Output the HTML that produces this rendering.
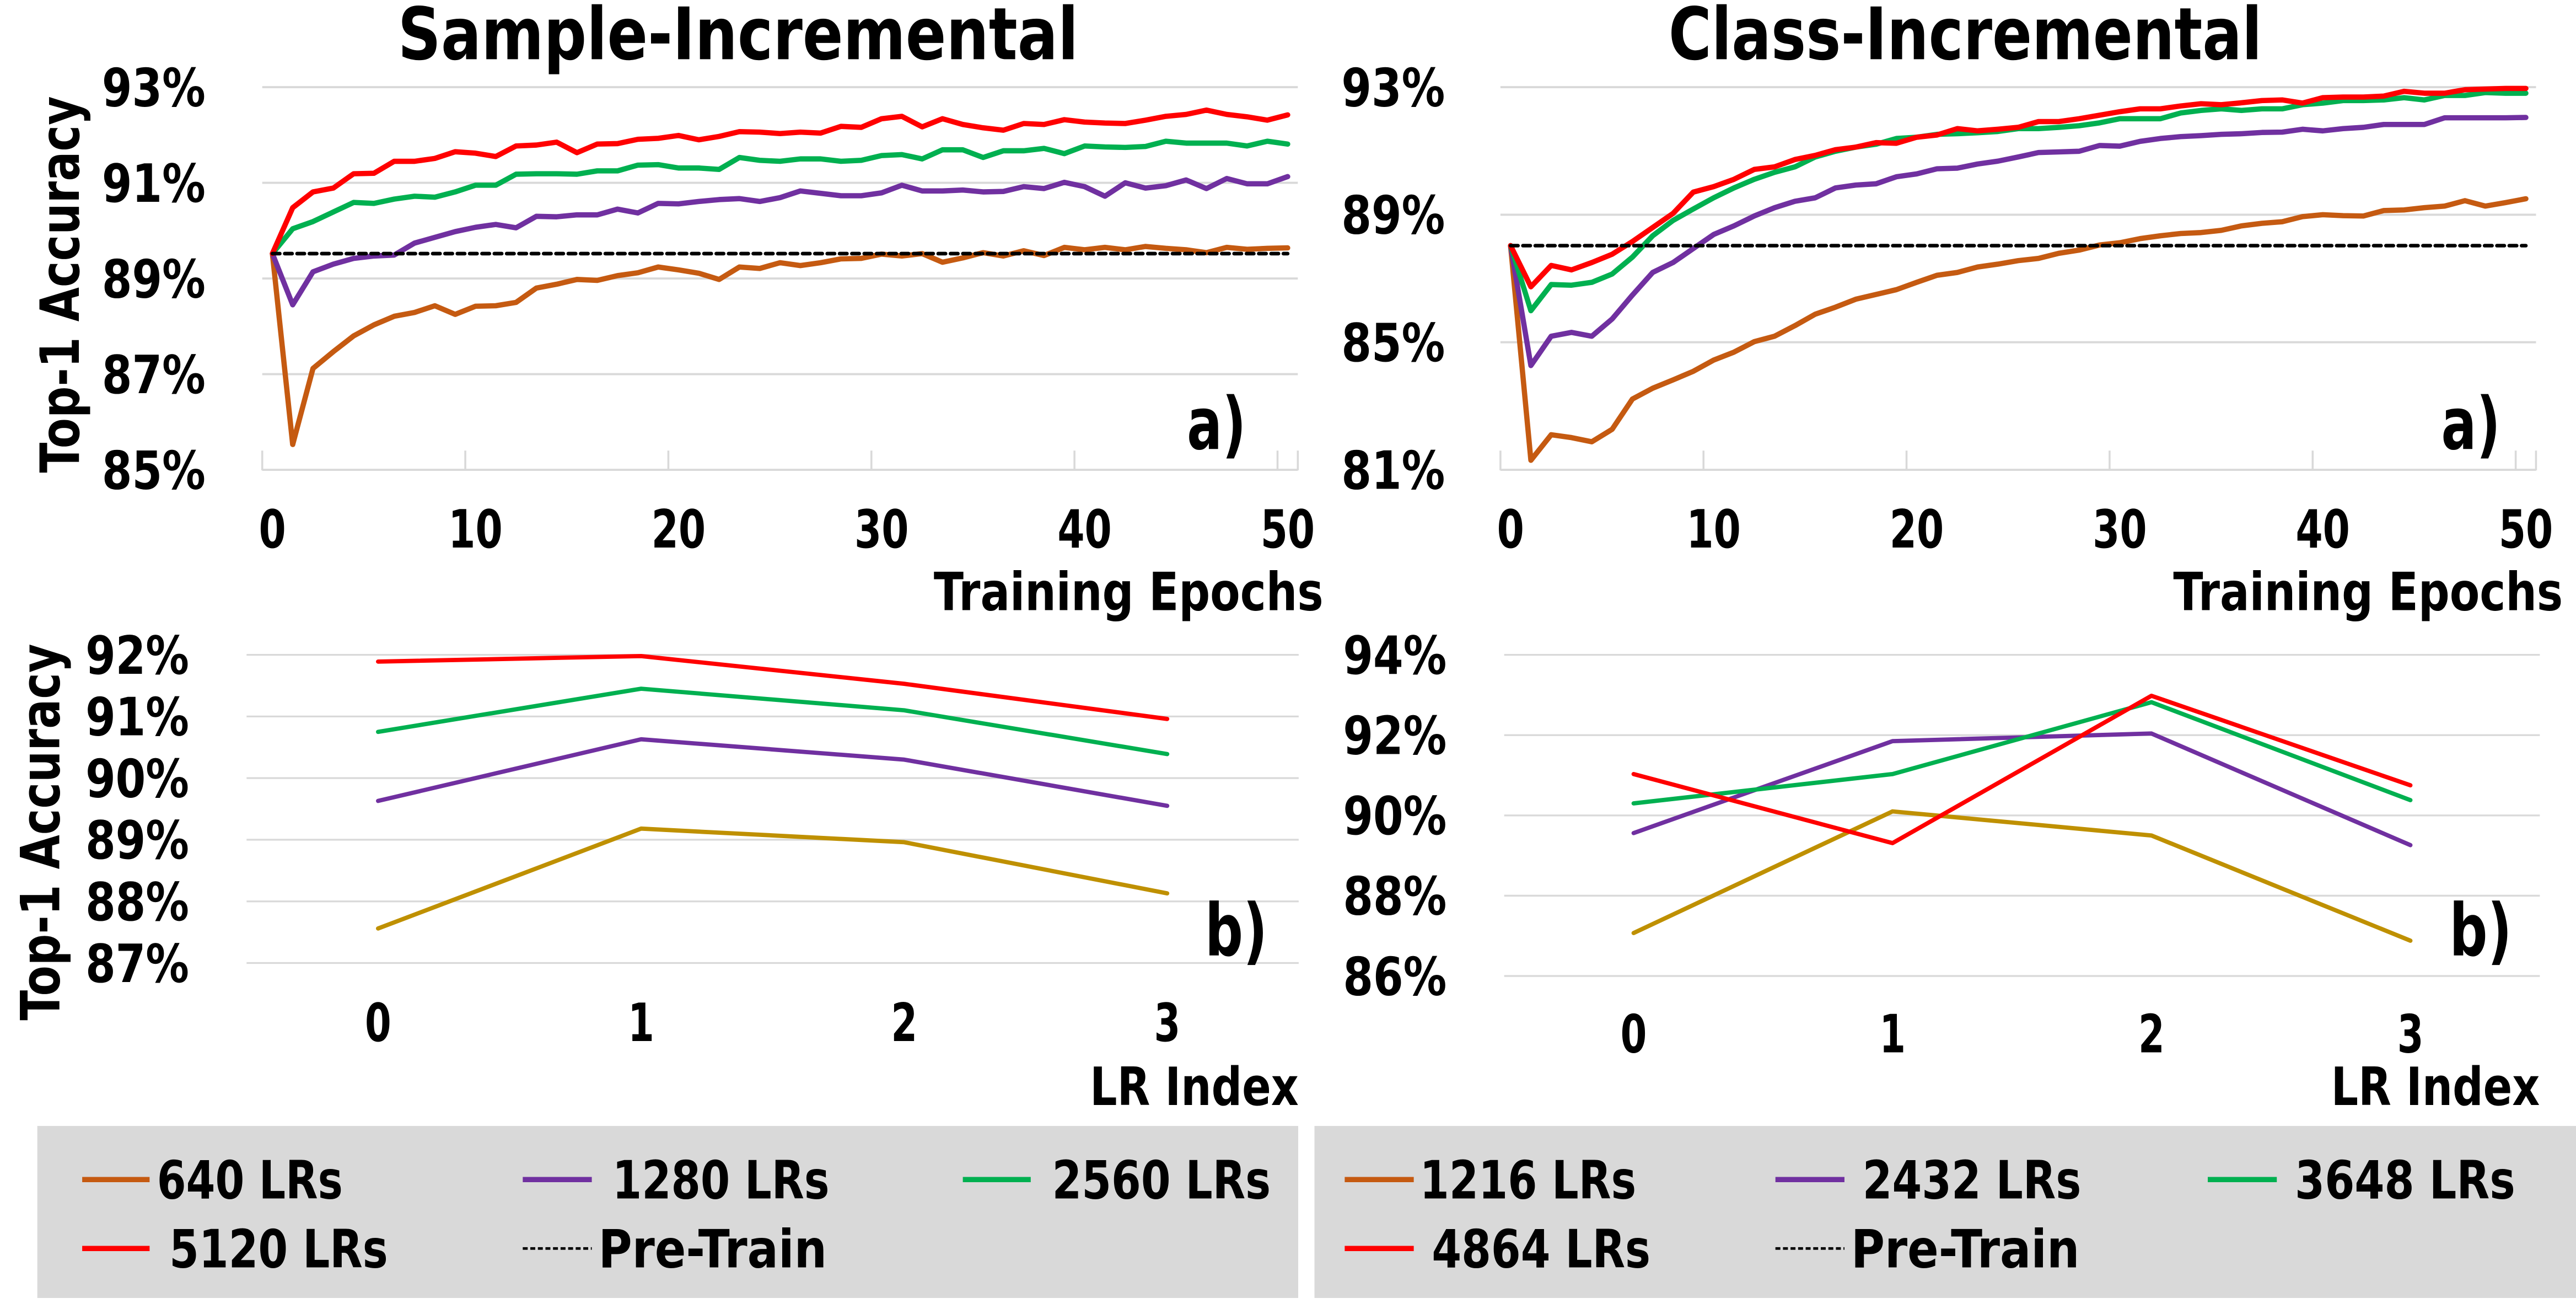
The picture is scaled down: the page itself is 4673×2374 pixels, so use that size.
<!DOCTYPE html>
<html><head><meta charset="utf-8"><style>
html,body{margin:0;padding:0;background:#fff;}
svg{display:block;}
text{font-family:"DejaVu Sans","Liberation Sans",sans-serif;font-weight:bold;fill:#000;}
</style></head><body>
<svg id="chart" xmlns="http://www.w3.org/2000/svg" width="4673" height="2374" viewBox="0 0 1567 796" preserveAspectRatio="none">
<rect x="0" y="0" width="1567" height="796" fill="#fff"/>
</svg>
<script>
// ---------- data ----------
const epochs = Array.from({length: 51}, (_, i) => i);
const sampleTicks = ["93%", "91%", "89%", "87%", "85%"];
const sampleTickValues = [93, 91, 89, 87, 85];
const samplePretrain = 89.52;
const sample640 = [89.52,85.53,87.12,87.47,87.80,88.03,88.21,88.29,88.43,88.25,88.42,88.43,88.50,88.80,88.88,88.98,88.96,89.06,89.12,89.24,89.18,89.11,88.98,89.24,89.21,89.33,89.27,89.33,89.41,89.42,89.51,89.47,89.52,89.34,89.43,89.54,89.47,89.58,89.48,89.65,89.60,89.65,89.60,89.67,89.63,89.60,89.54,89.65,89.61,89.63,89.64];
const sample1280 = [89.52,88.45,89.14,89.30,89.42,89.47,89.49,89.74,89.86,89.98,90.07,90.13,90.06,90.30,90.29,90.33,90.33,90.45,90.37,90.57,90.56,90.61,90.65,90.67,90.61,90.69,90.83,90.78,90.73,90.73,90.79,90.95,90.83,90.83,90.85,90.81,90.82,90.92,90.88,91.01,90.92,90.72,91.00,90.89,90.94,91.06,90.88,91.09,90.98,90.98,91.13];
const sample2560 = [89.52,90.04,90.19,90.39,90.59,90.57,90.66,90.72,90.70,90.81,90.95,90.95,91.18,91.19,91.19,91.18,91.25,91.25,91.37,91.38,91.31,91.31,91.28,91.53,91.47,91.45,91.50,91.50,91.45,91.47,91.57,91.59,91.50,91.69,91.69,91.53,91.67,91.67,91.72,91.61,91.77,91.75,91.74,91.76,91.87,91.83,91.83,91.83,91.77,91.87,91.81];
const sample5120 = [89.52,90.48,90.81,90.89,91.19,91.20,91.45,91.45,91.51,91.65,91.62,91.55,91.77,91.79,91.85,91.63,91.81,91.82,91.91,91.93,91.99,91.90,91.97,92.07,92.06,92.03,92.06,92.04,92.18,92.16,92.34,92.39,92.17,92.34,92.22,92.15,92.10,92.24,92.22,92.32,92.27,92.25,92.24,92.31,92.39,92.43,92.52,92.43,92.38,92.31,92.42];

const classTicks = ["93%", "89%", "85%", "81%"];
const classTickValues = [93, 89, 85, 81];
const classPretrain = 88.03;
const class1216 = [88.03,81.30,82.10,82.01,81.88,82.27,83.22,83.56,83.82,84.09,84.44,84.69,85.02,85.19,85.52,85.88,86.10,86.35,86.50,86.65,86.88,87.10,87.19,87.36,87.45,87.56,87.63,87.79,87.89,88.05,88.12,88.25,88.34,88.41,88.44,88.51,88.65,88.73,88.78,88.94,89.00,88.97,88.96,89.13,89.15,89.22,89.27,89.44,89.27,89.38,89.50];
const class2432 = [88.03,84.27,85.19,85.31,85.19,85.73,86.48,87.19,87.50,87.94,88.38,88.65,88.96,89.22,89.42,89.53,89.84,89.93,89.97,90.19,90.28,90.44,90.46,90.59,90.68,90.81,90.95,90.97,90.99,91.17,91.15,91.30,91.39,91.45,91.48,91.52,91.54,91.58,91.59,91.68,91.63,91.70,91.74,91.83,91.83,91.83,92.04,92.04,92.04,92.04,92.05];
const class3648 = [88.03,85.99,86.81,86.79,86.88,87.14,87.67,88.34,88.82,89.18,89.53,89.84,90.11,90.33,90.50,90.81,90.99,91.12,91.21,91.39,91.43,91.52,91.54,91.57,91.61,91.70,91.70,91.74,91.79,91.88,92.01,92.01,92.01,92.19,92.27,92.32,92.27,92.32,92.32,92.45,92.50,92.58,92.58,92.60,92.67,92.60,92.74,92.74,92.83,92.81,92.81];
const class4864 = [88.03,86.74,87.41,87.27,87.50,87.76,88.16,88.60,89.04,89.71,89.88,90.11,90.42,90.50,90.73,90.86,91.04,91.12,91.26,91.24,91.43,91.50,91.70,91.63,91.68,91.74,91.92,91.92,92.01,92.12,92.23,92.32,92.32,92.41,92.48,92.45,92.51,92.58,92.60,92.50,92.67,92.69,92.69,92.72,92.87,92.81,92.81,92.92,92.94,92.96,92.96];

const lrIndex = ["0", "1", "2", "3"];
const lrSampleTicks = ["92%", "91%", "90%", "89%", "88%", "87%"];
const lrSampleTickValues = [92, 91, 90, 89, 88, 87];
const lrSample640 = [87.56, 89.18, 88.96, 88.13];
const lrSample1280 = [89.63, 90.63, 90.30, 89.55];
const lrSample2560 = [90.75, 91.45, 91.10, 90.39];
const lrSample5120 = [91.89, 91.98, 91.53, 90.96];

const lrClassTicks = ["94%", "92%", "90%", "88%", "86%"];
const lrClassTickValues = [94, 92, 90, 88, 86];
const lrClass1216 = [87.07, 90.10, 89.50, 86.88];
const lrClass2432 = [89.56, 91.85, 92.04, 89.26];
const lrClass3648 = [90.30, 91.03, 92.82, 90.38];
const lrClass4864 = [91.03, 89.31, 92.98, 90.75];

// ---------- helpers ----------
const NS = "http://www.w3.org/2000/svg";
const svg = document.getElementById("chart");
const C = {orange:"#c55a11", purple:"#7030a0", green:"#00b050", red:"#ff0000", gold:"#bf9000", grid:"#d9d9d9"};

function mk(tag, attrs, parent) {
  const el = document.createElementNS(NS, tag);
  for (const k in attrs) el.setAttribute(k, attrs[k]);
  (parent || svg).appendChild(el);
  return el;
}
function txt(s, x, y, size, len, anchor, name) {
  const t = mk("text", {x: x, y: y, "font-size": size, textLength: len, lengthAdjust: "spacingAndGlyphs", "text-anchor": anchor || "start"});
  t.textContent = s;
  
  
  return t;
}
function line(x1, y1, x2, y2, stroke, w, name) {
  const l = mk("line", {x1: x1, y1: y1, x2: x2, y2: y2, stroke: stroke, "stroke-width": w});
  
  
  return l;
}
function poly(xs, ys, stroke, w, name, dash) {
  const pts = xs.map((x, i) => x.toFixed(2) + "," + ys[i].toFixed(2)).join(" ");
  const p = mk("polyline", {points: pts, fill: "none", stroke: stroke, "stroke-width": w, "stroke-linejoin": "round", "stroke-linecap": "round"});
  if (dash) p.setAttribute("stroke-dasharray", dash);
  
  
  return p;
}
function yScale(vTop, yTop, vBot, yBot) { return v => yTop + (vTop - v) * (yBot - yTop) / (vTop - vBot); }

// ---------- top panels ----------
function epochPanel(opt) {
  const xOf = i => opt.x0 + i * opt.dx;
  const yOf = yScale(opt.tickValues[0], 53, opt.tickValues[opt.tickValues.length - 1], 285.7);
  const left = xOf(-0.5), right = xOf(50.5);
  opt.tickValues.forEach((v, k) => {
    if (k < opt.tickValues.length - 1) line(left, yOf(v), right, yOf(v), C.grid, 1.3, opt.id + "-gridline");
    txt(opt.ticks[k], opt.labelRight, yOf(v) + 11.5, 32, 63, "end", opt.id + "-y-tick-label");
  });
  line(left, 285.7, right, 285.7, C.grid, 1.3, opt.id + "-x-axis-line");
  for (let i = 0; i <= 50; i += 10) {
    line(xOf(i - 0.5), 274, xOf(i - 0.5), 286, C.grid, 1.2, opt.id + "-x-tick-mark");
    txt(String(i), xOf(i), 333, 32, String(i).length * 16.5, "middle", opt.id + "-x-tick-label");
  }
  line(xOf(50.5), 274, xOf(50.5), 286, C.grid, 1.2, opt.id + "-x-tick-mark");
  const xs = epochs.map(xOf);
  opt.series.forEach(s => poly(xs, s.v.map(yOf), s.c, 3.2, s.n));
  poly([xOf(0), xOf(50)], [yOf(opt.pre), yOf(opt.pre)], "#000", 2.2, opt.id + "-pretrain-line", "4.5,3");
  txt("Training Epochs", opt.xTitleX, 371, 32, 237, "start", opt.id + "-x-axis-title");
  txt("a)", opt.aX, 273, 44, 36, "start", opt.id + "-panel-label");
}
epochPanel({id: "sample-epoch", x0: 165.7, dx: 12.352, ticks: sampleTicks, tickValues: sampleTickValues, labelRight: 125, pre: samplePretrain,
  xTitleX: 568, aX: 722,
  series: [{v: sample640, c: C.orange, n: "line-640-lrs"}, {v: sample1280, c: C.purple, n: "line-1280-lrs"},
           {v: sample2560, c: C.green, n: "line-2560-lrs"}, {v: sample5120, c: C.red, n: "line-5120-lrs"}]});
epochPanel({id: "class-epoch", x0: 918.9, dx: 12.352, ticks: classTicks, tickValues: classTickValues, labelRight: 879, pre: classPretrain,
  xTitleX: 1322, aX: 1485,
  series: [{v: class1216, c: C.orange, n: "line-1216-lrs"}, {v: class2432, c: C.purple, n: "line-2432-lrs"},
           {v: class3648, c: C.green, n: "line-3648-lrs"}, {v: class4864, c: C.red, n: "line-4864-lrs"}]});

// ---------- bottom panels ----------
function lrPanel(opt) {
  const xOf = k => opt.left + (k + 0.5) * (opt.right - opt.left) / 4;
  const yOf = yScale(opt.tickValues[0], opt.yTop, opt.tickValues[opt.tickValues.length - 1], opt.yBot);
  opt.tickValues.forEach((v, k) => {
    line(opt.left, yOf(v), opt.right, yOf(v), C.grid, 1.1, opt.id + "-gridline");
    txt(opt.ticks[k], opt.labelRight, yOf(v) + 11.5, 32, 63, "end", opt.id + "-y-tick-label");
  });
  lrIndex.forEach((s, k) => txt(s, xOf(k), opt.xLabY, 32, 16, "middle", opt.id + "-x-tick-label"));
  const xs = lrIndex.map((_, k) => xOf(k));
  opt.series.forEach(s => poly(xs, s.v.map(yOf), s.c, 2.6, s.n));
  txt("LR Index", opt.right, 672, 32, 127, "end", opt.id + "-x-axis-title");
  txt("b)", opt.bX, 581, 44, 38, "start", opt.id + "-panel-label");
}
lrPanel({id: "sample-lr", left: 150, right: 790, yTop: 398.2, yBot: 585.6, ticks: lrSampleTicks, tickValues: lrSampleTickValues,
  labelRight: 115, xLabY: 633, bX: 733,
  series: [{v: lrSample640, c: C.gold, n: "lr-line-640-lrs"}, {v: lrSample1280, c: C.purple, n: "lr-line-1280-lrs"},
           {v: lrSample2560, c: C.green, n: "lr-line-2560-lrs"}, {v: lrSample5120, c: C.red, n: "lr-line-5120-lrs"}]});
lrPanel({id: "class-lr", left: 915, right: 1545, yTop: 398.2, yBot: 593.5, ticks: lrClassTicks, tickValues: lrClassTickValues,
  labelRight: 880, xLabY: 640, bX: 1490,
  series: [{v: lrClass1216, c: C.gold, n: "lr-line-1216-lrs"}, {v: lrClass2432, c: C.purple, n: "lr-line-2432-lrs"},
           {v: lrClass3648, c: C.green, n: "lr-line-3648-lrs"}, {v: lrClass4864, c: C.red, n: "lr-line-4864-lrs"}]});

// ---------- titles ----------
txt("Sample-Incremental", 242, 36, 44, 414, "start", "sample-incremental-title");
txt("Class-Incremental", 1015, 36, 44, 361, "start", "class-incremental-title");
function yTitle(cx, cy, name) {
  const t = txt("Top-1 Accuracy", 0, 0, 33, 229, "middle", name);
  t.setAttribute("transform", "translate(" + cx + "," + cy + ") rotate(-90)");
}
yTitle(48, 173, "top-y-axis-title");
yTitle(36, 506, "bottom-y-axis-title");

// ---------- legends ----------
function legend(x, w, entries, name) {
  const g = mk("g", {});
  
  
  mk("rect", {x: x, y: 684.7, width: w, height: 104.6, fill: "#d9d9d9"}, g);
  entries.forEach(e => {
    const y = e.row === 0 ? 717.3 : 759.2;
    const l = mk("line", {x1: e.lx1, y1: y, x2: e.lx2, y2: y, stroke: e.c, "stroke-width": e.dash ? 1.6 : 3.2}, g);
    if (e.dash) l.setAttribute("stroke-dasharray", "3,1.6");
    
    
    const t = txt(e.t, e.tx, y + 11.5, 32, e.tw, "start", "legend-entry-label");
    g.appendChild(t);
  });
}
legend(22.7, 767, [
  {row: 0, lx1: 50, lx2: 91, c: C.orange, t: "640 LRs", tx: 95.5, tw: 113},
  {row: 0, lx1: 318, lx2: 360, c: C.purple, t: "1280 LRs", tx: 372.5, tw: 132},
  {row: 0, lx1: 585.7, lx2: 627, c: C.green, t: "2560 LRs", tx: 640, tw: 133},
  {row: 1, lx1: 50, lx2: 91, c: C.red, t: "5120 LRs", tx: 103, tw: 133},
  {row: 1, lx1: 318, lx2: 360, c: "#000", dash: true, t: "Pre-Train", tx: 364, tw: 139}
], "legend-sample");
legend(799.6, 767.4, [
  {row: 0, lx1: 818, lx2: 860, c: C.orange, t: "1216 LRs", tx: 863.7, tw: 131.6},
  {row: 0, lx1: 1080, lx2: 1122, c: C.purple, t: "2432 LRs", tx: 1133, tw: 133},
  {row: 0, lx1: 1343, lx2: 1385, c: C.green, t: "3648 LRs", tx: 1396, tw: 134},
  {row: 1, lx1: 818, lx2: 860, c: C.red, t: "4864 LRs", tx: 871, tw: 133},
  {row: 1, lx1: 1080, lx2: 1122, c: "#000", dash: true, t: "Pre-Train", tx: 1126, tw: 139}
], "legend-class");
</script>
</body></html>
